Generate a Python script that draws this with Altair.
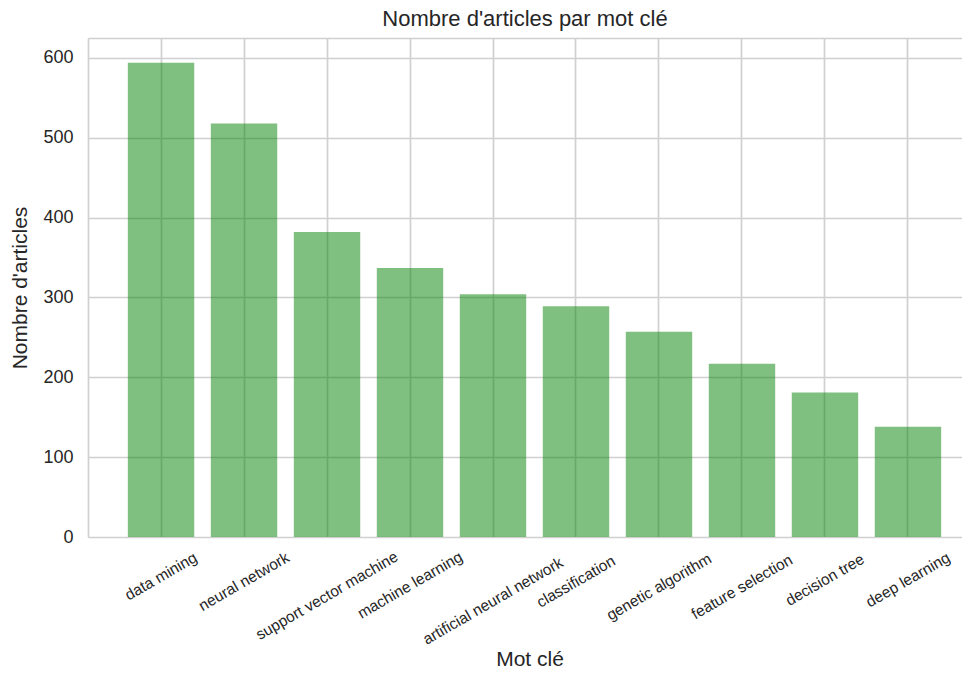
import altair as alt
import pandas as pd

keywords = ["data mining", "neural network", "support vector machine", "machine learning",
            "artificial neural network", "classification", "genetic algorithm",
            "feature selection", "decision tree", "deep learning"]
counts = [594, 518, 382, 337, 304, 289, 257, 217, 181, 138]
y_ticks = [0, 100, 200, 300, 400, 500, 600, 625]

df = pd.DataFrame({"kw": keywords, "n": counts})

W, H = 874, 499      # visible plot area (the reference is cropped on the right)
XR = 893             # full axis length of the band scale
FONT = "Liberation Sans, Arial, sans-serif"
TXT = "#262626"
GRID = "#d0d0d0"

base = alt.Chart(df)

bars = base.mark_bar(color="#008000", opacity=0.5).encode(
    x=alt.X("kw:N", sort=keywords,
            scale=alt.Scale(paddingInner=0.2, paddingOuter=0.48, range=[0, XR]),
            axis=alt.Axis(labels=False, ticks=False, domain=False, grid=True,
                          bandPosition=0.5, gridColor=GRID, gridWidth=1.7,
                          title="Mot clé", titleFontSize=21, titleFont=FONT,
                          titleFontWeight="normal", titleColor=TXT, titlePadding=111,
                          titleX=XR / 2 - 5)),
    y=alt.Y("n:Q", scale=alt.Scale(domain=[0, 625], nice=False, zero=True),
            axis=alt.Axis(values=y_ticks, ticks=False, domain=True, domainColor=GRID,
                          domainWidth=1.7, grid=True,
                          gridColor=GRID, gridWidth=1.7, labelFontSize=18,
                          labelExpr="datum.value > 600 ? '' : datum.label",
                          labelFont=FONT, labelColor=TXT, labelPadding=15,
                          title="Nombre d'articles", titleFontSize=21, titleFont=FONT,
                          titleFontWeight="normal", titleColor=TXT, titlePadding=12)),
)

labels = base.transform_calculate(
    ly=f"{H} + 20 + length(datum.kw) * 1.76"
).mark_text(angle=330, align="center", baseline="middle", fontSize=15.5,
            font=FONT, color=TXT).encode(
    x=alt.X("kw:N", sort=keywords),
    y=alt.Y("ly:Q", scale=None, axis=None),
    text="kw:N",
)

chart = alt.layer(bars, labels).properties(
    width=W, height=H,
    title=alt.TitleParams("Nombre d'articles par mot clé", fontSize=22, font=FONT,
                          fontWeight="normal", color=TXT, offset=7,
                          frame="group", anchor="middle"),
    autosize=alt.AutoSizeParams(type="none"),
    padding={"left": 80, "top": 30, "right": 0, "bottom": 135},
).configure_view(stroke=None).configure(background="white")

chart.save("out.html", embed_options={"renderer": "svg", "actions": False})
